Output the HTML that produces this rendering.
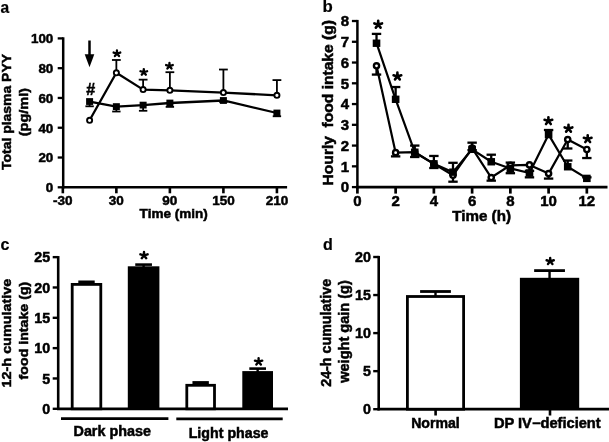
<!DOCTYPE html>
<html><head><meta charset="utf-8"><style>
html,body{margin:0;padding:0;background:#fff;}
svg{display:block;font-family:"Liberation Sans", sans-serif;-webkit-font-smoothing:antialiased;will-change:transform;filter:blur(0.35px);}
</style></head><body>
<svg width="609" height="442" viewBox="0 0 609 442">
<rect width="609" height="442" fill="#fff"/>
<text x="0.40" y="12.50" font-size="15.6" text-anchor="start" font-weight="bold" stroke="#000" stroke-width="0.2">a</text>
<line x1="63.20" y1="37.30" x2="63.20" y2="188.50" stroke="#000" stroke-width="2.5" stroke-linecap="butt"/>
<line x1="62.00" y1="187.30" x2="287.10" y2="187.30" stroke="#000" stroke-width="2.6" stroke-linecap="butt"/>
<line x1="57.70" y1="187.30" x2="63.20" y2="187.30" stroke="#000" stroke-width="2.3" stroke-linecap="butt"/>
<text x="53.30" y="192.10" font-size="13.4" text-anchor="end" font-weight="bold" stroke="#000" stroke-width="0.5">0</text>
<line x1="57.70" y1="157.52" x2="63.20" y2="157.52" stroke="#000" stroke-width="2.3" stroke-linecap="butt"/>
<text x="53.30" y="162.32" font-size="13.4" text-anchor="end" font-weight="bold" stroke="#000" stroke-width="0.5">20</text>
<line x1="57.70" y1="127.74" x2="63.20" y2="127.74" stroke="#000" stroke-width="2.3" stroke-linecap="butt"/>
<text x="53.30" y="132.54" font-size="13.4" text-anchor="end" font-weight="bold" stroke="#000" stroke-width="0.5">40</text>
<line x1="57.70" y1="97.96" x2="63.20" y2="97.96" stroke="#000" stroke-width="2.3" stroke-linecap="butt"/>
<text x="53.30" y="102.76" font-size="13.4" text-anchor="end" font-weight="bold" stroke="#000" stroke-width="0.5">60</text>
<line x1="57.70" y1="68.18" x2="63.20" y2="68.18" stroke="#000" stroke-width="2.3" stroke-linecap="butt"/>
<text x="53.30" y="72.98" font-size="13.4" text-anchor="end" font-weight="bold" stroke="#000" stroke-width="0.5">80</text>
<line x1="57.70" y1="38.40" x2="63.20" y2="38.40" stroke="#000" stroke-width="2.3" stroke-linecap="butt"/>
<text x="53.30" y="43.20" font-size="13.4" text-anchor="end" font-weight="bold" stroke="#000" stroke-width="0.5">100</text>
<line x1="62.84" y1="187.30" x2="62.84" y2="193.30" stroke="#000" stroke-width="2.6" stroke-linecap="butt"/>
<text x="62.84" y="204.60" font-size="13.5" text-anchor="middle" font-weight="bold" stroke="#000" stroke-width="0.5">-30</text>
<line x1="116.36" y1="187.30" x2="116.36" y2="193.30" stroke="#000" stroke-width="2.6" stroke-linecap="butt"/>
<text x="116.36" y="204.60" font-size="13.5" text-anchor="middle" font-weight="bold" stroke="#000" stroke-width="0.5">30</text>
<line x1="169.88" y1="187.30" x2="169.88" y2="193.30" stroke="#000" stroke-width="2.6" stroke-linecap="butt"/>
<text x="169.88" y="204.60" font-size="13.5" text-anchor="middle" font-weight="bold" stroke="#000" stroke-width="0.5">90</text>
<line x1="223.40" y1="187.30" x2="223.40" y2="193.30" stroke="#000" stroke-width="2.6" stroke-linecap="butt"/>
<text x="223.40" y="204.60" font-size="13.5" text-anchor="middle" font-weight="bold" stroke="#000" stroke-width="0.5">150</text>
<line x1="276.92" y1="187.30" x2="276.92" y2="193.30" stroke="#000" stroke-width="2.6" stroke-linecap="butt"/>
<text x="276.92" y="204.60" font-size="13.5" text-anchor="middle" font-weight="bold" stroke="#000" stroke-width="0.5">210</text>
<text x="139.60" y="217.60" font-size="13.5" text-anchor="start" font-weight="bold" stroke="#000" stroke-width="0.5" textLength="68.30" lengthAdjust="spacingAndGlyphs">Time (min)</text>
<text x="10.60" y="170.00" font-size="13.5" text-anchor="start" font-weight="bold" stroke="#000" stroke-width="0.5" transform="rotate(-90 10.60 170.00)" textLength="116.00" lengthAdjust="spacingAndGlyphs">Total plasma PYY</text>
<text x="27.60" y="136.20" font-size="13.5" text-anchor="start" font-weight="bold" stroke="#000" stroke-width="0.5" transform="rotate(-90 27.60 136.20)" textLength="48.20" lengthAdjust="spacingAndGlyphs">(pg/ml)</text>
<line x1="89.50" y1="40.50" x2="89.50" y2="57.00" stroke="#000" stroke-width="2.5" stroke-linecap="butt"/>
<path d="M84.7,54.3 L94.3,54.3 L89.5,67.3 Z" fill="#000"/>
<line x1="89.60" y1="101.53" x2="89.60" y2="106.30" stroke="#000" stroke-width="1.8" stroke-linecap="butt"/>
<line x1="85.40" y1="106.30" x2="93.80" y2="106.30" stroke="#000" stroke-width="1.8" stroke-linecap="butt"/>
<line x1="116.36" y1="106.60" x2="116.36" y2="111.51" stroke="#000" stroke-width="1.8" stroke-linecap="butt"/>
<line x1="112.16" y1="111.51" x2="120.56" y2="111.51" stroke="#000" stroke-width="1.8" stroke-linecap="butt"/>
<line x1="143.12" y1="105.11" x2="143.12" y2="110.77" stroke="#000" stroke-width="1.8" stroke-linecap="butt"/>
<line x1="138.92" y1="110.77" x2="147.32" y2="110.77" stroke="#000" stroke-width="1.8" stroke-linecap="butt"/>
<line x1="169.88" y1="103.02" x2="169.88" y2="106.89" stroke="#000" stroke-width="1.8" stroke-linecap="butt"/>
<line x1="165.68" y1="106.89" x2="174.08" y2="106.89" stroke="#000" stroke-width="1.8" stroke-linecap="butt"/>
<line x1="223.40" y1="100.49" x2="223.40" y2="101.98" stroke="#000" stroke-width="1.8" stroke-linecap="butt"/>
<line x1="219.20" y1="101.98" x2="227.60" y2="101.98" stroke="#000" stroke-width="1.8" stroke-linecap="butt"/>
<line x1="276.92" y1="113.00" x2="276.92" y2="116.27" stroke="#000" stroke-width="1.8" stroke-linecap="butt"/>
<line x1="272.72" y1="116.27" x2="281.12" y2="116.27" stroke="#000" stroke-width="1.8" stroke-linecap="butt"/>
<line x1="116.36" y1="72.80" x2="116.36" y2="59.99" stroke="#000" stroke-width="1.8" stroke-linecap="butt"/>
<line x1="111.96" y1="59.99" x2="120.76" y2="59.99" stroke="#000" stroke-width="1.8" stroke-linecap="butt"/>
<line x1="143.12" y1="89.62" x2="143.12" y2="79.65" stroke="#000" stroke-width="1.8" stroke-linecap="butt"/>
<line x1="138.72" y1="79.65" x2="147.52" y2="79.65" stroke="#000" stroke-width="1.8" stroke-linecap="butt"/>
<line x1="169.88" y1="90.37" x2="169.88" y2="72.20" stroke="#000" stroke-width="1.8" stroke-linecap="butt"/>
<line x1="165.48" y1="72.20" x2="174.28" y2="72.20" stroke="#000" stroke-width="1.8" stroke-linecap="butt"/>
<line x1="223.40" y1="92.60" x2="223.40" y2="69.52" stroke="#000" stroke-width="1.8" stroke-linecap="butt"/>
<line x1="219.00" y1="69.52" x2="227.80" y2="69.52" stroke="#000" stroke-width="1.8" stroke-linecap="butt"/>
<line x1="276.92" y1="95.28" x2="276.92" y2="80.09" stroke="#000" stroke-width="1.8" stroke-linecap="butt"/>
<line x1="272.52" y1="80.09" x2="281.32" y2="80.09" stroke="#000" stroke-width="1.8" stroke-linecap="butt"/>
<polyline points="89.60,101.53 116.36,106.60 143.12,105.11 169.88,103.02 223.40,100.49 276.92,113.00" fill="none" stroke="#000" stroke-width="2.3" stroke-linejoin="round"/>
<polyline points="89.60,120.30 116.36,72.80 143.12,89.62 169.88,90.37 223.40,92.60 276.92,95.28" fill="none" stroke="#000" stroke-width="2.3" stroke-linejoin="round"/>
<rect x="86.10" y="98.13" width="7.00" height="6.80" fill="#000"/>
<rect x="112.86" y="103.20" width="7.00" height="6.80" fill="#000"/>
<rect x="139.62" y="101.71" width="7.00" height="6.80" fill="#000"/>
<rect x="166.38" y="99.62" width="7.00" height="6.80" fill="#000"/>
<rect x="219.90" y="97.09" width="7.00" height="6.80" fill="#000"/>
<rect x="273.42" y="109.60" width="7.00" height="6.80" fill="#000"/>
<circle cx="89.60" cy="120.30" r="2.55" fill="#fff" stroke="#000" stroke-width="1.9"/>
<circle cx="116.36" cy="72.80" r="2.55" fill="#fff" stroke="#000" stroke-width="1.9"/>
<circle cx="143.12" cy="89.62" r="2.55" fill="#fff" stroke="#000" stroke-width="1.9"/>
<circle cx="169.88" cy="90.37" r="2.55" fill="#fff" stroke="#000" stroke-width="1.9"/>
<circle cx="223.40" cy="92.60" r="2.55" fill="#fff" stroke="#000" stroke-width="1.9"/>
<circle cx="276.92" cy="95.28" r="2.55" fill="#fff" stroke="#000" stroke-width="1.9"/>
<path d="M116.95,53.50L116.95,50.42M116.95,53.50L120.28,52.55M116.95,53.50L119.01,55.99M116.95,53.50L114.89,55.99M116.95,53.50L113.62,52.55" stroke="#000" stroke-width="2.3" stroke-linecap="round" stroke-linejoin="round" fill="none"/>
<path d="M143.80,72.20L143.80,69.12M143.80,72.20L147.13,71.25M143.80,72.20L145.86,74.69M143.80,72.20L141.74,74.69M143.80,72.20L140.47,71.25" stroke="#000" stroke-width="2.3" stroke-linecap="round" stroke-linejoin="round" fill="none"/>
<path d="M169.45,66.00L169.45,62.92M169.45,66.00L172.78,65.05M169.45,66.00L171.51,68.49M169.45,66.00L167.39,68.49M169.45,66.00L166.12,65.05" stroke="#000" stroke-width="2.3" stroke-linecap="round" stroke-linejoin="round" fill="none"/>
<text x="90.80" y="94.50" font-size="16" text-anchor="middle" font-weight="bold" stroke="#000" stroke-width="0.5">#</text>
<text x="322.40" y="12.30" font-size="16.8" text-anchor="start" font-weight="bold" stroke="#000" stroke-width="0.2">b</text>
<line x1="357.40" y1="19.92" x2="357.40" y2="188.30" stroke="#000" stroke-width="2.5" stroke-linecap="butt"/>
<line x1="356.20" y1="187.10" x2="607.50" y2="187.10" stroke="#000" stroke-width="2.8" stroke-linecap="butt"/>
<line x1="351.90" y1="187.10" x2="357.40" y2="187.10" stroke="#000" stroke-width="2.3" stroke-linecap="butt"/>
<text x="349.00" y="192.40" font-size="15" text-anchor="end" font-weight="bold" stroke="#000" stroke-width="0.5">0</text>
<line x1="351.90" y1="166.34" x2="357.40" y2="166.34" stroke="#000" stroke-width="2.3" stroke-linecap="butt"/>
<text x="349.00" y="171.64" font-size="15" text-anchor="end" font-weight="bold" stroke="#000" stroke-width="0.5">1</text>
<line x1="351.90" y1="145.58" x2="357.40" y2="145.58" stroke="#000" stroke-width="2.3" stroke-linecap="butt"/>
<text x="349.00" y="150.88" font-size="15" text-anchor="end" font-weight="bold" stroke="#000" stroke-width="0.5">2</text>
<line x1="351.90" y1="124.82" x2="357.40" y2="124.82" stroke="#000" stroke-width="2.3" stroke-linecap="butt"/>
<text x="349.00" y="130.12" font-size="15" text-anchor="end" font-weight="bold" stroke="#000" stroke-width="0.5">3</text>
<line x1="351.90" y1="104.06" x2="357.40" y2="104.06" stroke="#000" stroke-width="2.3" stroke-linecap="butt"/>
<text x="349.00" y="109.36" font-size="15" text-anchor="end" font-weight="bold" stroke="#000" stroke-width="0.5">4</text>
<line x1="351.90" y1="83.30" x2="357.40" y2="83.30" stroke="#000" stroke-width="2.3" stroke-linecap="butt"/>
<text x="349.00" y="88.60" font-size="15" text-anchor="end" font-weight="bold" stroke="#000" stroke-width="0.5">5</text>
<line x1="351.90" y1="62.54" x2="357.40" y2="62.54" stroke="#000" stroke-width="2.3" stroke-linecap="butt"/>
<text x="349.00" y="67.84" font-size="15" text-anchor="end" font-weight="bold" stroke="#000" stroke-width="0.5">6</text>
<line x1="351.90" y1="41.78" x2="357.40" y2="41.78" stroke="#000" stroke-width="2.3" stroke-linecap="butt"/>
<text x="349.00" y="47.08" font-size="15" text-anchor="end" font-weight="bold" stroke="#000" stroke-width="0.5">7</text>
<line x1="351.90" y1="21.02" x2="357.40" y2="21.02" stroke="#000" stroke-width="2.3" stroke-linecap="butt"/>
<text x="349.00" y="26.32" font-size="15" text-anchor="end" font-weight="bold" stroke="#000" stroke-width="0.5">8</text>
<line x1="357.40" y1="187.10" x2="357.40" y2="193.60" stroke="#000" stroke-width="2.7" stroke-linecap="butt"/>
<text x="357.40" y="205.90" font-size="15" text-anchor="middle" font-weight="bold" stroke="#000" stroke-width="0.5">0</text>
<line x1="395.64" y1="187.10" x2="395.64" y2="193.60" stroke="#000" stroke-width="2.7" stroke-linecap="butt"/>
<text x="395.64" y="205.90" font-size="15" text-anchor="middle" font-weight="bold" stroke="#000" stroke-width="0.5">2</text>
<line x1="433.88" y1="187.10" x2="433.88" y2="193.60" stroke="#000" stroke-width="2.7" stroke-linecap="butt"/>
<text x="433.88" y="205.90" font-size="15" text-anchor="middle" font-weight="bold" stroke="#000" stroke-width="0.5">4</text>
<line x1="472.12" y1="187.10" x2="472.12" y2="193.60" stroke="#000" stroke-width="2.7" stroke-linecap="butt"/>
<text x="472.12" y="205.90" font-size="15" text-anchor="middle" font-weight="bold" stroke="#000" stroke-width="0.5">6</text>
<line x1="510.36" y1="187.10" x2="510.36" y2="193.60" stroke="#000" stroke-width="2.7" stroke-linecap="butt"/>
<text x="510.36" y="205.90" font-size="15" text-anchor="middle" font-weight="bold" stroke="#000" stroke-width="0.5">8</text>
<line x1="548.60" y1="187.10" x2="548.60" y2="193.60" stroke="#000" stroke-width="2.7" stroke-linecap="butt"/>
<text x="548.60" y="205.90" font-size="15" text-anchor="middle" font-weight="bold" stroke="#000" stroke-width="0.5">10</text>
<line x1="586.84" y1="187.10" x2="586.84" y2="193.60" stroke="#000" stroke-width="2.7" stroke-linecap="butt"/>
<text x="586.84" y="205.90" font-size="15" text-anchor="middle" font-weight="bold" stroke="#000" stroke-width="0.5">12</text>
<text x="452.20" y="221.30" font-size="14.5" text-anchor="start" font-weight="bold" stroke="#000" stroke-width="0.5" textLength="58.80" lengthAdjust="spacingAndGlyphs">Time (h)</text>
<text x="333.00" y="185.40" font-size="14.5" text-anchor="start" font-weight="bold" stroke="#000" stroke-width="0.5" transform="rotate(-90 333.00 185.40)" textLength="165.30" lengthAdjust="spacingAndGlyphs">Hourly  food intake (g)</text>
<line x1="376.52" y1="43.23" x2="376.52" y2="33.89" stroke="#000" stroke-width="2.3" stroke-linecap="butt"/>
<line x1="371.82" y1="33.89" x2="381.22" y2="33.89" stroke="#000" stroke-width="2.3" stroke-linecap="butt"/>
<line x1="395.64" y1="99.29" x2="395.64" y2="87.04" stroke="#000" stroke-width="2.3" stroke-linecap="butt"/>
<line x1="390.94" y1="87.04" x2="400.34" y2="87.04" stroke="#000" stroke-width="2.3" stroke-linecap="butt"/>
<line x1="414.76" y1="152.22" x2="414.76" y2="145.58" stroke="#000" stroke-width="2.3" stroke-linecap="butt"/>
<line x1="410.06" y1="145.58" x2="419.46" y2="145.58" stroke="#000" stroke-width="2.3" stroke-linecap="butt"/>
<line x1="433.88" y1="163.85" x2="433.88" y2="155.96" stroke="#000" stroke-width="2.3" stroke-linecap="butt"/>
<line x1="429.18" y1="155.96" x2="438.58" y2="155.96" stroke="#000" stroke-width="2.3" stroke-linecap="butt"/>
<line x1="453.00" y1="172.15" x2="453.00" y2="162.81" stroke="#000" stroke-width="2.3" stroke-linecap="butt"/>
<line x1="448.30" y1="162.81" x2="457.70" y2="162.81" stroke="#000" stroke-width="2.3" stroke-linecap="butt"/>
<line x1="472.12" y1="149.32" x2="472.12" y2="142.67" stroke="#000" stroke-width="2.3" stroke-linecap="butt"/>
<line x1="467.42" y1="142.67" x2="476.82" y2="142.67" stroke="#000" stroke-width="2.3" stroke-linecap="butt"/>
<line x1="491.24" y1="161.77" x2="491.24" y2="154.71" stroke="#000" stroke-width="2.3" stroke-linecap="butt"/>
<line x1="486.54" y1="154.71" x2="495.94" y2="154.71" stroke="#000" stroke-width="2.3" stroke-linecap="butt"/>
<line x1="510.36" y1="168.42" x2="510.36" y2="162.60" stroke="#000" stroke-width="2.3" stroke-linecap="butt"/>
<line x1="505.66" y1="162.60" x2="515.06" y2="162.60" stroke="#000" stroke-width="2.3" stroke-linecap="butt"/>
<line x1="529.48" y1="172.98" x2="529.48" y2="170.91" stroke="#000" stroke-width="2.3" stroke-linecap="butt"/>
<line x1="524.78" y1="170.91" x2="534.18" y2="170.91" stroke="#000" stroke-width="2.3" stroke-linecap="butt"/>
<line x1="548.60" y1="134.58" x2="548.60" y2="130.01" stroke="#000" stroke-width="2.3" stroke-linecap="butt"/>
<line x1="543.90" y1="130.01" x2="553.30" y2="130.01" stroke="#000" stroke-width="2.3" stroke-linecap="butt"/>
<line x1="567.72" y1="166.76" x2="567.72" y2="160.53" stroke="#000" stroke-width="2.3" stroke-linecap="butt"/>
<line x1="563.02" y1="160.53" x2="572.42" y2="160.53" stroke="#000" stroke-width="2.3" stroke-linecap="butt"/>
<line x1="586.84" y1="178.38" x2="586.84" y2="177.34" stroke="#000" stroke-width="2.3" stroke-linecap="butt"/>
<line x1="582.14" y1="177.34" x2="591.54" y2="177.34" stroke="#000" stroke-width="2.3" stroke-linecap="butt"/>
<line x1="376.52" y1="65.86" x2="376.52" y2="74.58" stroke="#000" stroke-width="2.3" stroke-linecap="butt"/>
<line x1="371.82" y1="74.58" x2="381.22" y2="74.58" stroke="#000" stroke-width="2.3" stroke-linecap="butt"/>
<line x1="395.64" y1="152.64" x2="395.64" y2="156.38" stroke="#000" stroke-width="2.3" stroke-linecap="butt"/>
<line x1="390.94" y1="156.38" x2="400.34" y2="156.38" stroke="#000" stroke-width="2.3" stroke-linecap="butt"/>
<line x1="414.76" y1="152.22" x2="414.76" y2="157.00" stroke="#000" stroke-width="2.3" stroke-linecap="butt"/>
<line x1="410.06" y1="157.00" x2="419.46" y2="157.00" stroke="#000" stroke-width="2.3" stroke-linecap="butt"/>
<line x1="433.88" y1="163.85" x2="433.88" y2="168.00" stroke="#000" stroke-width="2.3" stroke-linecap="butt"/>
<line x1="429.18" y1="168.00" x2="438.58" y2="168.00" stroke="#000" stroke-width="2.3" stroke-linecap="butt"/>
<line x1="453.00" y1="175.27" x2="453.00" y2="181.70" stroke="#000" stroke-width="2.3" stroke-linecap="butt"/>
<line x1="448.30" y1="181.70" x2="457.70" y2="181.70" stroke="#000" stroke-width="2.3" stroke-linecap="butt"/>
<line x1="472.12" y1="148.07" x2="472.12" y2="150.15" stroke="#000" stroke-width="2.3" stroke-linecap="butt"/>
<line x1="467.42" y1="150.15" x2="476.82" y2="150.15" stroke="#000" stroke-width="2.3" stroke-linecap="butt"/>
<line x1="491.24" y1="177.55" x2="491.24" y2="180.66" stroke="#000" stroke-width="2.3" stroke-linecap="butt"/>
<line x1="486.54" y1="180.66" x2="495.94" y2="180.66" stroke="#000" stroke-width="2.3" stroke-linecap="butt"/>
<line x1="510.36" y1="165.30" x2="510.36" y2="173.19" stroke="#000" stroke-width="2.3" stroke-linecap="butt"/>
<line x1="505.66" y1="173.19" x2="515.06" y2="173.19" stroke="#000" stroke-width="2.3" stroke-linecap="butt"/>
<line x1="529.48" y1="164.89" x2="529.48" y2="177.34" stroke="#000" stroke-width="2.3" stroke-linecap="butt"/>
<line x1="524.78" y1="177.34" x2="534.18" y2="177.34" stroke="#000" stroke-width="2.3" stroke-linecap="butt"/>
<line x1="548.60" y1="173.61" x2="548.60" y2="178.59" stroke="#000" stroke-width="2.3" stroke-linecap="butt"/>
<line x1="543.90" y1="178.59" x2="553.30" y2="178.59" stroke="#000" stroke-width="2.3" stroke-linecap="butt"/>
<line x1="567.72" y1="139.56" x2="567.72" y2="148.49" stroke="#000" stroke-width="2.3" stroke-linecap="butt"/>
<line x1="563.02" y1="148.49" x2="572.42" y2="148.49" stroke="#000" stroke-width="2.3" stroke-linecap="butt"/>
<line x1="586.84" y1="149.52" x2="586.84" y2="158.04" stroke="#000" stroke-width="2.3" stroke-linecap="butt"/>
<line x1="582.14" y1="158.04" x2="591.54" y2="158.04" stroke="#000" stroke-width="2.3" stroke-linecap="butt"/>
<polyline points="376.52,43.23 395.64,99.29 414.76,152.22 433.88,163.85 453.00,172.15 472.12,149.32 491.24,161.77 510.36,168.42 529.48,172.98 548.60,134.58 567.72,166.76 586.84,178.38" fill="none" stroke="#000" stroke-width="2.2" stroke-linejoin="round"/>
<polyline points="376.52,65.86 395.64,152.64 414.76,152.22 433.88,163.85 453.00,175.27 472.12,148.07 491.24,177.55 510.36,165.30 529.48,164.89 548.60,173.61 567.72,139.56 586.84,149.52" fill="none" stroke="#000" stroke-width="2.2" stroke-linejoin="round"/>
<circle cx="376.52" cy="65.86" r="2.60" fill="#fff" stroke="#000" stroke-width="2.4"/>
<circle cx="395.64" cy="152.64" r="2.60" fill="#fff" stroke="#000" stroke-width="2.4"/>
<circle cx="414.76" cy="152.22" r="2.60" fill="#fff" stroke="#000" stroke-width="2.4"/>
<circle cx="433.88" cy="163.85" r="2.60" fill="#fff" stroke="#000" stroke-width="2.4"/>
<circle cx="453.00" cy="175.27" r="2.60" fill="#fff" stroke="#000" stroke-width="2.4"/>
<circle cx="472.12" cy="148.07" r="2.60" fill="#fff" stroke="#000" stroke-width="2.4"/>
<circle cx="491.24" cy="177.55" r="2.60" fill="#fff" stroke="#000" stroke-width="2.4"/>
<circle cx="510.36" cy="165.30" r="2.60" fill="#fff" stroke="#000" stroke-width="2.4"/>
<circle cx="529.48" cy="164.89" r="2.60" fill="#fff" stroke="#000" stroke-width="2.4"/>
<circle cx="548.60" cy="173.61" r="2.60" fill="#fff" stroke="#000" stroke-width="2.4"/>
<circle cx="567.72" cy="139.56" r="2.60" fill="#fff" stroke="#000" stroke-width="2.4"/>
<circle cx="586.84" cy="149.52" r="2.60" fill="#fff" stroke="#000" stroke-width="2.4"/>
<rect x="372.72" y="39.53" width="7.60" height="7.40" fill="#000"/>
<rect x="391.84" y="95.59" width="7.60" height="7.40" fill="#000"/>
<rect x="410.96" y="148.52" width="7.60" height="7.40" fill="#000"/>
<rect x="430.08" y="160.15" width="7.60" height="7.40" fill="#000"/>
<rect x="449.20" y="168.45" width="7.60" height="7.40" fill="#000"/>
<rect x="468.32" y="145.62" width="7.60" height="7.40" fill="#000"/>
<rect x="487.44" y="158.07" width="7.60" height="7.40" fill="#000"/>
<rect x="506.56" y="164.72" width="7.60" height="7.40" fill="#000"/>
<rect x="525.68" y="169.28" width="7.60" height="7.40" fill="#000"/>
<rect x="544.80" y="130.88" width="7.60" height="7.40" fill="#000"/>
<rect x="563.92" y="163.06" width="7.60" height="7.40" fill="#000"/>
<rect x="583.04" y="174.68" width="7.60" height="7.40" fill="#000"/>
<path d="M378.20,24.60L378.20,20.87M378.20,24.60L382.05,23.45M378.20,24.60L380.58,27.61M378.20,24.60L375.82,27.61M378.20,24.60L374.35,23.45" stroke="#000" stroke-width="2.6" stroke-linecap="round" stroke-linejoin="round" fill="none"/>
<path d="M397.40,76.40L397.40,72.67M397.40,76.40L401.25,75.25M397.40,76.40L399.78,79.41M397.40,76.40L395.02,79.41M397.40,76.40L393.55,75.25" stroke="#000" stroke-width="2.6" stroke-linecap="round" stroke-linejoin="round" fill="none"/>
<path d="M548.40,121.00L548.40,117.27M548.40,121.00L552.25,119.85M548.40,121.00L550.78,124.01M548.40,121.00L546.02,124.01M548.40,121.00L544.55,119.85" stroke="#000" stroke-width="2.6" stroke-linecap="round" stroke-linejoin="round" fill="none"/>
<path d="M568.50,128.60L568.50,124.87M568.50,128.60L572.35,127.45M568.50,128.60L570.88,131.61M568.50,128.60L566.12,131.61M568.50,128.60L564.65,127.45" stroke="#000" stroke-width="2.6" stroke-linecap="round" stroke-linejoin="round" fill="none"/>
<path d="M587.70,139.00L587.70,135.27M587.70,139.00L591.55,137.85M587.70,139.00L590.08,142.01M587.70,139.00L585.32,142.01M587.70,139.00L583.85,137.85" stroke="#000" stroke-width="2.6" stroke-linecap="round" stroke-linejoin="round" fill="none"/>
<text x="0.50" y="249.60" font-size="16" text-anchor="start" font-weight="bold" stroke="#000" stroke-width="0.2">c</text>
<line x1="58.20" y1="256.05" x2="58.20" y2="410.00" stroke="#000" stroke-width="2.6" stroke-linecap="butt"/>
<line x1="57.00" y1="408.80" x2="288.00" y2="408.80" stroke="#000" stroke-width="2.7" stroke-linecap="butt"/>
<line x1="52.70" y1="408.80" x2="58.20" y2="408.80" stroke="#000" stroke-width="2.4" stroke-linecap="butt"/>
<text x="50.20" y="413.90" font-size="14.3" text-anchor="end" font-weight="bold" stroke="#000" stroke-width="0.5">0</text>
<line x1="52.70" y1="378.47" x2="58.20" y2="378.47" stroke="#000" stroke-width="2.4" stroke-linecap="butt"/>
<text x="50.20" y="383.57" font-size="14.3" text-anchor="end" font-weight="bold" stroke="#000" stroke-width="0.5">5</text>
<line x1="52.70" y1="348.14" x2="58.20" y2="348.14" stroke="#000" stroke-width="2.4" stroke-linecap="butt"/>
<text x="50.20" y="353.24" font-size="14.3" text-anchor="end" font-weight="bold" stroke="#000" stroke-width="0.5">10</text>
<line x1="52.70" y1="317.81" x2="58.20" y2="317.81" stroke="#000" stroke-width="2.4" stroke-linecap="butt"/>
<text x="50.20" y="322.91" font-size="14.3" text-anchor="end" font-weight="bold" stroke="#000" stroke-width="0.5">15</text>
<line x1="52.70" y1="287.48" x2="58.20" y2="287.48" stroke="#000" stroke-width="2.4" stroke-linecap="butt"/>
<text x="50.20" y="292.58" font-size="14.3" text-anchor="end" font-weight="bold" stroke="#000" stroke-width="0.5">20</text>
<line x1="52.70" y1="257.15" x2="58.20" y2="257.15" stroke="#000" stroke-width="2.4" stroke-linecap="butt"/>
<text x="50.20" y="262.25" font-size="14.3" text-anchor="end" font-weight="bold" stroke="#000" stroke-width="0.5">25</text>
<rect x="78.30" y="280.50" width="16.40" height="3.30" fill="#000"/>
<rect x="72.20" y="284.40" width="28.60" height="124.40" fill="#fff" stroke="#000" stroke-width="2.8"/>
<line x1="143.60" y1="267.30" x2="143.60" y2="264.60" stroke="#000" stroke-width="2.4" stroke-linecap="butt"/>
<line x1="135.25" y1="264.60" x2="151.95" y2="264.60" stroke="#000" stroke-width="2.6" stroke-linecap="butt"/>
<rect x="127.80" y="266.30" width="31.60" height="142.50" fill="#000"/>
<rect x="192.45" y="381.10" width="16.40" height="3.60" fill="#000"/>
<rect x="186.80" y="385.30" width="27.70" height="23.50" fill="#fff" stroke="#000" stroke-width="2.8"/>
<line x1="257.65" y1="372.10" x2="257.65" y2="368.60" stroke="#000" stroke-width="2.4" stroke-linecap="butt"/>
<line x1="249.30" y1="368.60" x2="266.00" y2="368.60" stroke="#000" stroke-width="2.6" stroke-linecap="butt"/>
<rect x="242.30" y="371.10" width="30.70" height="37.70" fill="#000"/>
<path d="M144.00,255.40L144.00,251.98M144.00,255.40L147.61,254.34M144.00,255.40L146.23,258.17M144.00,255.40L141.77,258.17M144.00,255.40L140.39,254.34" stroke="#000" stroke-width="2.4" stroke-linecap="round" stroke-linejoin="round" fill="none"/>
<path d="M258.60,361.70L258.60,358.28M258.60,361.70L262.21,360.64M258.60,361.70L260.83,364.47M258.60,361.70L256.37,364.47M258.60,361.70L254.99,360.64" stroke="#000" stroke-width="2.4" stroke-linecap="round" stroke-linejoin="round" fill="none"/>
<line x1="61.00" y1="418.60" x2="168.40" y2="418.60" stroke="#000" stroke-width="2.7" stroke-linecap="butt"/>
<line x1="176.30" y1="418.80" x2="282.70" y2="418.80" stroke="#000" stroke-width="2.7" stroke-linecap="butt"/>
<text x="73.50" y="436.20" font-size="14" text-anchor="start" font-weight="bold" stroke="#000" stroke-width="0.5" textLength="77.50" lengthAdjust="spacingAndGlyphs">Dark phase</text>
<text x="188.70" y="437.60" font-size="14" text-anchor="start" font-weight="bold" stroke="#000" stroke-width="0.5" textLength="79.80" lengthAdjust="spacingAndGlyphs">Light phase</text>
<text x="10.80" y="387.40" font-size="13.6" text-anchor="start" font-weight="bold" stroke="#000" stroke-width="0.5" transform="rotate(-90 10.80 387.40)" textLength="108.60" lengthAdjust="spacingAndGlyphs">12-h cumulative</text>
<text x="27.80" y="379.40" font-size="13.6" text-anchor="start" font-weight="bold" stroke="#000" stroke-width="0.5" transform="rotate(-90 27.80 379.40)" textLength="97.70" lengthAdjust="spacingAndGlyphs">food intake (g)</text>
<text x="323.00" y="249.60" font-size="16" text-anchor="start" font-weight="bold" stroke="#000" stroke-width="0.2">d</text>
<line x1="378.70" y1="255.90" x2="378.70" y2="410.40" stroke="#000" stroke-width="2.6" stroke-linecap="butt"/>
<line x1="377.50" y1="409.20" x2="609.00" y2="409.20" stroke="#000" stroke-width="2.8" stroke-linecap="butt"/>
<line x1="373.20" y1="409.20" x2="378.70" y2="409.20" stroke="#000" stroke-width="2.4" stroke-linecap="butt"/>
<text x="371.00" y="414.30" font-size="14.3" text-anchor="end" font-weight="bold" stroke="#000" stroke-width="0.5">0</text>
<line x1="373.20" y1="371.15" x2="378.70" y2="371.15" stroke="#000" stroke-width="2.4" stroke-linecap="butt"/>
<text x="371.00" y="376.25" font-size="14.3" text-anchor="end" font-weight="bold" stroke="#000" stroke-width="0.5">5</text>
<line x1="373.20" y1="333.10" x2="378.70" y2="333.10" stroke="#000" stroke-width="2.4" stroke-linecap="butt"/>
<text x="371.00" y="338.20" font-size="14.3" text-anchor="end" font-weight="bold" stroke="#000" stroke-width="0.5">10</text>
<line x1="373.20" y1="295.05" x2="378.70" y2="295.05" stroke="#000" stroke-width="2.4" stroke-linecap="butt"/>
<text x="371.00" y="300.15" font-size="14.3" text-anchor="end" font-weight="bold" stroke="#000" stroke-width="0.5">15</text>
<line x1="373.20" y1="257.00" x2="378.70" y2="257.00" stroke="#000" stroke-width="2.4" stroke-linecap="butt"/>
<text x="371.00" y="262.10" font-size="14.3" text-anchor="end" font-weight="bold" stroke="#000" stroke-width="0.5">20</text>
<line x1="435.60" y1="409.20" x2="435.60" y2="415.50" stroke="#000" stroke-width="2.6" stroke-linecap="butt"/>
<line x1="550.00" y1="409.20" x2="550.00" y2="415.50" stroke="#000" stroke-width="2.6" stroke-linecap="butt"/>
<line x1="435.50" y1="296.10" x2="435.50" y2="291.50" stroke="#000" stroke-width="2.4" stroke-linecap="butt"/>
<line x1="420.10" y1="291.50" x2="450.90" y2="291.50" stroke="#000" stroke-width="2.8" stroke-linecap="butt"/>
<rect x="407.40" y="296.50" width="56.20" height="112.70" fill="#fff" stroke="#000" stroke-width="2.8"/>
<line x1="549.55" y1="278.80" x2="549.55" y2="270.60" stroke="#000" stroke-width="2.4" stroke-linecap="butt"/>
<line x1="534.15" y1="270.60" x2="564.95" y2="270.60" stroke="#000" stroke-width="2.8" stroke-linecap="butt"/>
<rect x="519.90" y="277.80" width="59.30" height="131.40" fill="#000"/>
<path d="M550.20,261.30L550.20,257.96M550.20,261.30L553.81,260.27M550.20,261.30L552.43,264.01M550.20,261.30L547.97,264.01M550.20,261.30L546.59,260.27" stroke="#000" stroke-width="2.4" stroke-linecap="round" stroke-linejoin="round" fill="none"/>
<text x="411.20" y="427.50" font-size="14" text-anchor="start" font-weight="bold" stroke="#000" stroke-width="0.5" textLength="48.60" lengthAdjust="spacingAndGlyphs">Normal</text>
<text x="493.90" y="427.60" font-size="14" text-anchor="start" font-weight="bold" stroke="#000" stroke-width="0.5" textLength="106.80" lengthAdjust="spacingAndGlyphs">DP IV−deficient</text>
<text x="331.20" y="386.80" font-size="14" text-anchor="start" font-weight="bold" stroke="#000" stroke-width="0.5" transform="rotate(-90 331.20 386.80)" textLength="107.90" lengthAdjust="spacingAndGlyphs">24-h cumulative</text>
<text x="349.40" y="382.80" font-size="14" text-anchor="start" font-weight="bold" stroke="#000" stroke-width="0.5" transform="rotate(-90 349.40 382.80)" textLength="102.60" lengthAdjust="spacingAndGlyphs">weight gain (g)</text>
</svg>
</body></html>
